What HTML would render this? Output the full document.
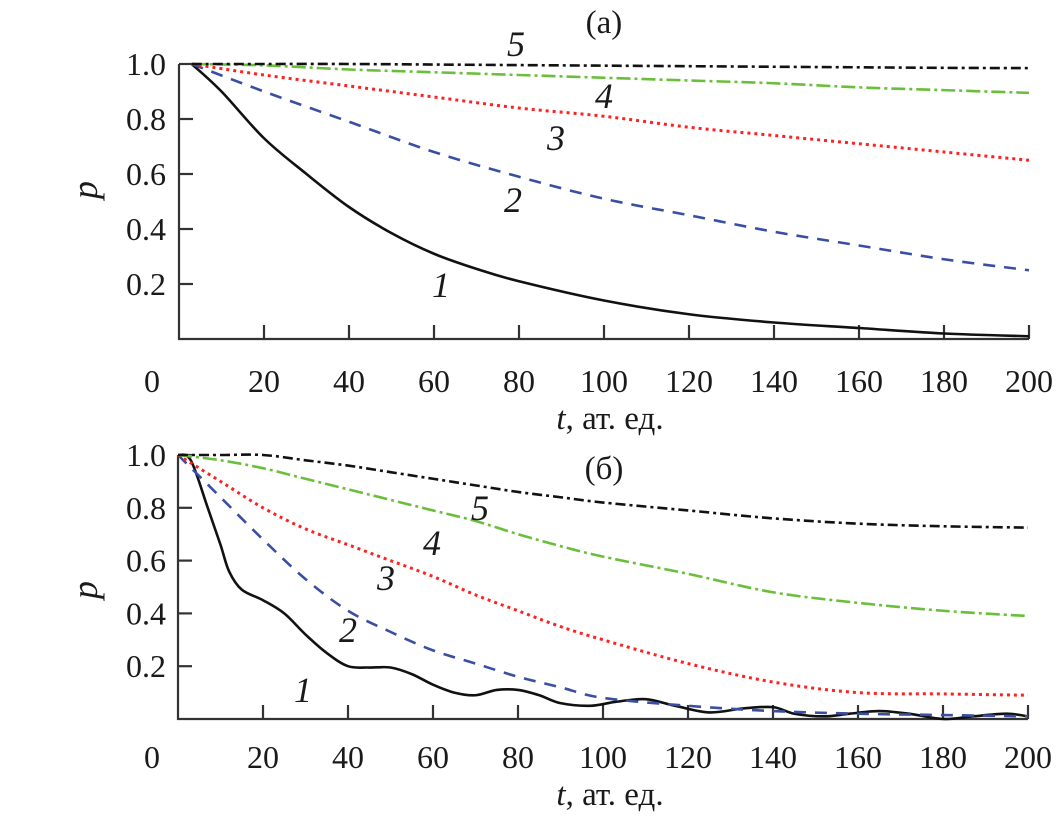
<!DOCTYPE html>
<html><head><meta charset="utf-8"><style>
body{margin:0;background:#fff}
svg{display:block;font-family:"Liberation Serif",serif}
</style></head><body>
<svg id="c" width="1064" height="825"></svg>
<script>
const ticksX=[20,40,60,80,100,120,140,160,180,200];
const ticksY=[0.2,0.4,0.6,0.8,1.0];
const topT1=[3,10,20,30,40,50,60,70,80,100,120,140,160,180,200];
const topP1=[1,0.9,0.73,0.6,0.48,0.385,0.31,0.255,0.21,0.14,0.09,0.06,0.04,0.02,0.01];
const topT=[3,20,40,60,80,100,120,140,160,180,200];
const topP2=[1,0.9,0.79,0.68,0.59,0.51,0.45,0.39,0.34,0.29,0.25];
const topP3=[1,0.96,0.92,0.88,0.84,0.81,0.77,0.74,0.71,0.68,0.65];
const topP4=[1,0.995,0.98,0.97,0.96,0.95,0.94,0.93,0.915,0.905,0.895];
const topP5=[1,1,1,0.998,0.996,0.994,0.992,0.99,0.988,0.986,0.985];
const botT1=[0,3,7,10,12,15,20,25,30,35,40,45,50,55,60,65,70,75,80,85,90,97,103,110,117,125,133,140,145,152,158,165,172,180,187,195,200];
const botP1=[1,0.98,0.8,0.66,0.56,0.49,0.45,0.4,0.32,0.25,0.2,0.195,0.195,0.17,0.13,0.1,0.09,0.11,0.11,0.09,0.06,0.05,0.065,0.075,0.05,0.025,0.04,0.045,0.02,0.01,0.02,0.03,0.02,0,0.01,0.02,0.01];
const botT=[0,10,20,30,40,50,60,70,80,90,100,120,140,160,180,200];
const botP2=[1,0.84,0.68,0.53,0.41,0.33,0.26,0.21,0.16,0.12,0.08,0.05,0.03,0.02,0.015,0.01];
const botP3=[1,0.9,0.8,0.72,0.66,0.6,0.54,0.47,0.41,0.35,0.3,0.21,0.14,0.1,0.095,0.09];
const botP4=[1,0.98,0.95,0.91,0.87,0.83,0.79,0.75,0.7,0.655,0.615,0.55,0.48,0.44,0.41,0.39];
const botP5=[1,1,1,0.98,0.96,0.935,0.91,0.885,0.86,0.84,0.82,0.79,0.76,0.74,0.73,0.725];

const svg=document.getElementById('c');
const NS='http://www.w3.org/2000/svg';
function mk(tag,attrs,parent){const e=document.createElementNS(NS,tag);for(const k in attrs)e.setAttribute(k,attrs[k]);(parent||svg).appendChild(e);return e;}
function txt(s,x,y,size,anchor,italic,name){const e=mk('text',{x:x,y:y,'font-size':size,'text-anchor':anchor,fill:'#1a1a1a'});if(italic)e.setAttribute('font-style','italic');e.textContent=s;


return e;}
function panel(p){
  const sx=t=>p.x0+t*p.kx, sy=v=>p.y0-v*p.ky;
  const g=mk('g',{});
  
  
  const ax=mk('path',{d:`M${p.x0},${sy(1)}V${p.y0}H${sx(200)}`,fill:'none',stroke:'#333','stroke-width':2.2},g);
  
  
  ticksX.forEach(t=>{const l=mk('line',{x1:sx(t),x2:sx(t),y1:p.y0,y2:p.y0-14,stroke:'#333','stroke-width':2.2},g);
    
    
    txt(String(t),sx(t),p.lx,32,'middle',false,'x-tick-label');});
  txt('0',152,p.lx,32,'middle',false,'x-tick-label');
  ticksY.forEach(v=>{const l=mk('line',{x1:p.x0,x2:p.x0+14,y1:sy(v),y2:sy(v),stroke:'#333','stroke-width':2.2},g);
    
    
    txt(v.toFixed(1),166,sy(v)+11,32,'end',false,'y-tick-label');});
  const xt=mk('text',{x:610,y:p.lx+37,'font-size':33,'text-anchor':'middle',fill:'#1a1a1a'});
  xt.innerHTML='<tspan font-style="italic">t</tspan>, ат. ед.';
  
  
  const yt=txt('p',0,0,36,'middle',true,'y-axis-title');
  yt.setAttribute('transform',`translate(${97},${p.py}) rotate(-90)`);
  const styles=[{c:'#111',d:''},{c:'#3a4fa3',d:'12 9'},{c:'#ff2020',d:'3 4'},{c:'#6abf3a',d:'14 4 3 4'},{c:'#111',d:'10 4 3 4'}];
  p.series.forEach((s,i)=>{
    const pts=s.t.map((t,j)=>[sx(t),sy(s.p[j])]);
    let d=`M${pts[0][0]},${pts[0][1]}`;
    for(let j=0;j<pts.length-1;j++){const a=pts[j-1]||pts[j],b=pts[j],c=pts[j+1],e=pts[j+2]||c;
      d+=`C${b[0]+(c[0]-a[0])/6},${b[1]+(c[1]-a[1])/6} ${c[0]-(e[0]-b[0])/6},${c[1]-(e[1]-b[1])/6} ${c[0]},${c[1]}`;}
    const el=mk('path',{d:d,fill:'none',stroke:styles[i].c,'stroke-width':i==2?3:2.6,'stroke-dasharray':styles[i].d},g);
    
    
  });
  p.labels.forEach((l,i)=>txt(String(i+1),l[0],l[1],36,'middle',true,'curve-label-'+(i+1)));
  txt(p.title,604,p.ty,33,'middle',false,'panel-title');
}
panel({name:'panel-a',x0:179,kx:4.25,y0:339,ky:275,lx:392,py:190,title:'(a)',ty:33,
  series:[{t:topT1,p:topP1},{t:topT,p:topP2},{t:topT,p:topP3},{t:topT,p:topP4},{t:topT,p:topP5}],
  labels:[[441,297],[513,212],[556,150],[604,108],[516,56]]});
panel({name:'panel-b',x0:178,kx:4.25,y0:719,ky:264,lx:768,py:590,title:'(б)',ty:479,
  series:[{t:botT1,p:botP1},{t:botT,p:botP2},{t:botT,p:botP3},{t:botT,p:botP4},{t:botT,p:botP5}],
  labels:[[303,702],[348,642],[386,590],[432,555],[480,520]]});
</script>
</body></html>
